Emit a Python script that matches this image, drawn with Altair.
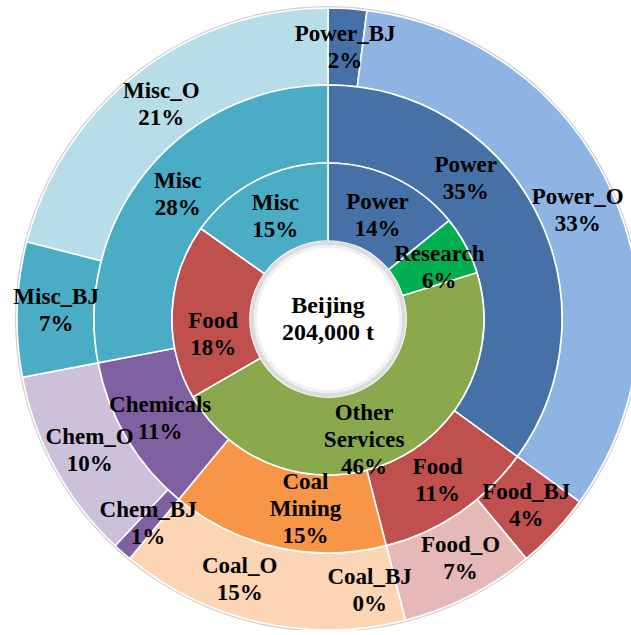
import altair as alt
import pandas as pd

# ---- data ----
inner_names = ["Power", "Research", "Other Services", "Food", "Misc"]
inner_labels = ["Power", "Research", "Other\nServices", "Food", "Misc"]
inner_pct = [14, 6, 46, 18, 15]

middle_names = ["Power", "Food", "Coal Mining", "Chemicals", "Misc"]
middle_labels = ["Power", "Food", "Coal\nMining", "Chemicals", "Misc"]
middle_pct = [35, 11, 15, 11, 28]

outer_names = ["Power_BJ", "Power_O", "Food_BJ", "Food_O", "Coal_BJ",
               "Coal_O", "Chem_BJ", "Chem_O", "Misc_BJ", "Misc_O"]
outer_labels = outer_names
outer_pct = [2, 33, 4, 7, 0, 15, 1, 10, 7, 21]

center_label = "Beijing\n204,000 t"

# ---- colours ----
color_domain = ["Power", "Research", "Other Services", "Food", "Misc",
                "Coal Mining", "Chemicals",
                "Power_BJ", "Power_O", "Food_BJ", "Food_O", "Coal_BJ",
                "Coal_O", "Chem_BJ", "Chem_O", "Misc_BJ", "Misc_O"]
color_range = ["#4571A6", "#00B050", "#8AA84C", "#C0504D", "#4BACC6",
               "#F79646", "#7F60A0",
               "#4571A6", "#8EB4E3", "#C0504D", "#E6B9B8", "#F79646",
               "#FCD5B5", "#7F60A0", "#CCC0DA", "#4BACC6", "#B7DEE8"]
color_scale = alt.Scale(domain=color_domain, range=color_range)
theta_scale = alt.Scale(domain=[0, 1])

# ---- label layout (hand-placed labels in the original) ----
inner_nudge = {"Food": (0, 21), "Other Services": (-10, 16), "Research": (10, 3)}
middle_nudge = {"Power": (-36, -52), "Coal Mining": (20, 0)}
outer_nudge = {"Coal_BJ": (-26, 8), "Food_O": (9, -3), "Coal_O": (-29, -5)}

FONT = "Liberation Serif"
FS = 23
LH = 27


def text_layer(base, r_text, flt, dx, dy):
    return base.transform_filter(flt).mark_text(
        radius=r_text, font=FONT, fontSize=FS, fontWeight="bold",
        lineBreak="\n", lineHeight=LH, color="black",
        align="center", baseline="middle", dx=dx, dy=dy,
    ).encode(
        theta=alt.Theta("mid:Q", scale=theta_scale),
        text="label:N",
    )


def ring(names, labels, pct, r_in, r_out, r_text, nudges):
    full = [f"{l}\n{p}%" for l, p in zip(labels, pct)]
    df = pd.DataFrame({
        "key": names,
        "label": full,
        "pct": pct,
        "idx": list(range(len(names))),
    })
    arcs = alt.Chart(df).mark_arc(
        radius=r_out, radius2=r_in, stroke="white", strokeWidth=1.6
    ).encode(
        theta=alt.Theta("pct:Q", stack="normalize", scale=theta_scale),
        order=alt.Order("idx:Q"),
        color=alt.Color("key:N", scale=color_scale, legend=None),
    )
    tbase = alt.Chart(df).transform_window(
        cum="sum(pct)", sort=[alt.SortField("idx")], frame=[None, 0]
    ).transform_joinaggregate(
        total="sum(pct)"
    ).transform_calculate(
        mid="(datum.cum - datum.pct / 2) / datum.total",
        nlines="length(split(datum.label, '\\n'))",
    )
    texts = []
    excl = " && ".join(f"datum.key != '{k}'" for k in nudges) or "true"
    for k in (2, 3):
        texts.append(text_layer(tbase, r_text,
                                f"datum.nlines == {k} && {excl}",
                                0, -(k - 1) * LH / 2))
    for key, (nx, ny) in nudges.items():
        n = full[names.index(key)].count("\n") + 1
        texts.append(text_layer(tbase, r_text, f"datum.key == '{key}'",
                                nx, ny - (n - 1) * LH / 2))
    return arcs, texts


outer_arcs, outer_text = ring(outer_names, outer_labels, outer_pct,
                              234, 311, 272, outer_nudge)
middle_arcs, middle_text = ring(middle_names, middle_labels, middle_pct,
                                156, 234, 195, middle_nudge)
inner_arcs, inner_text = ring(inner_names, inner_labels, inner_pct,
                              78, 156, 115, inner_nudge)

one = pd.DataFrame({"v": [1], "label": [center_label]})
circle_base = alt.Chart(one).encode(
    theta=alt.Theta("v:Q", stack="normalize", scale=theta_scale)
)
outer_edge = circle_base.mark_arc(radius=313, radius2=310.5, color="#cfcfcf")
hole_edge = circle_base.mark_arc(radius=78, radius2=74, color="#dcdcdc")
hole_edge2 = circle_base.mark_arc(radius=74, radius2=71, color="#f0f0f0")
center_text = circle_base.mark_text(
    radius=0, font=FONT, fontSize=24, fontWeight="bold", lineBreak="\n",
    lineHeight=27, color="black", align="center", baseline="middle",
    dy=-13.5,
).encode(text="label:N")

chart = alt.layer(
    outer_edge, outer_arcs, middle_arcs, inner_arcs, hole_edge, hole_edge2,
    *outer_text, *middle_text, *inner_text, center_text
).properties(
    width=606, height=622,
    padding={"left": 25, "top": 8, "right": 0, "bottom": 0},
    autosize=alt.AutoSizeParams(type="none"),
).configure_view(stroke=None)

chart.save("out.html", embed_options={"renderer": "svg", "actions": False})
